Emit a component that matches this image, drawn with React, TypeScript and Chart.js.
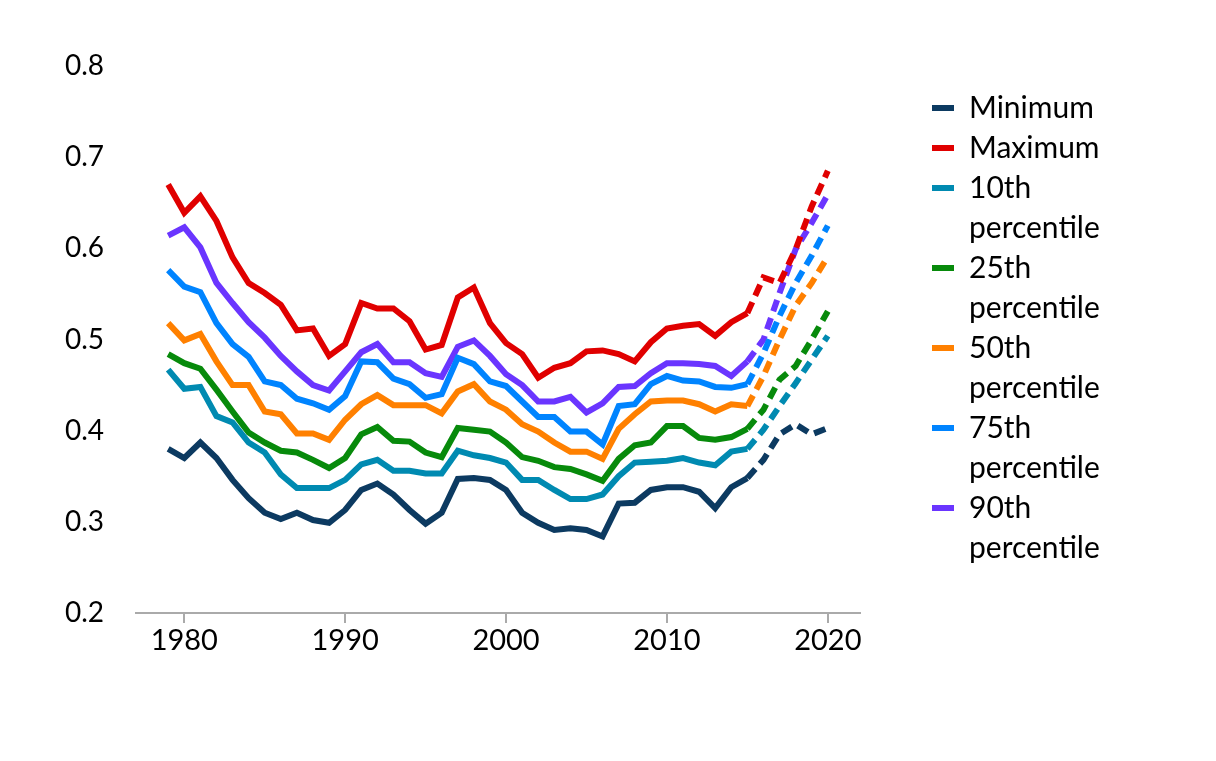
import { useEffect, useRef } from 'react';
import { Chart, registerables } from 'chart.js';

Chart.register(...registerables);

const years = [
  1979, 1980, 1981, 1982, 1983, 1984, 1985, 1986, 1987, 1988,
  1989, 1990, 1991, 1992, 1993, 1994, 1995, 1996, 1997, 1998,
  1999, 2000, 2001, 2002, 2003, 2004, 2005, 2006, 2007, 2008,
  2009, 2010, 2011, 2012, 2013, 2014, 2015, 2016, 2017, 2018,
  2019, 2020,
];
const xTicks = [1980, 1990, 2000, 2010, 2020];
const yTicks = [0.2, 0.3, 0.4, 0.5, 0.6, 0.7, 0.8];
// from this year on the lines are projections (dashed)
const projectionStart = 2015;

const minimum = [
  0.380, 0.370, 0.387, 0.370, 0.346, 0.326, 0.310, 0.303, 0.310, 0.302,
  0.299, 0.313, 0.335, 0.342, 0.330, 0.313, 0.298, 0.310, 0.347, 0.348,
  0.346, 0.335, 0.310, 0.299, 0.291, 0.293, 0.291, 0.284, 0.320, 0.321,
  0.335, 0.338, 0.338, 0.333, 0.315, 0.338, 0.348, 0.368, 0.396, 0.407,
  0.396, 0.403,
];
const maximum = [
  0.670, 0.639, 0.657, 0.630, 0.590, 0.562, 0.551, 0.538, 0.510, 0.512,
  0.482, 0.495, 0.540, 0.534, 0.534, 0.520, 0.489, 0.494, 0.546, 0.557,
  0.518, 0.496, 0.484, 0.458, 0.469, 0.474, 0.487, 0.488, 0.484, 0.476,
  0.497, 0.512, 0.515, 0.517, 0.504, 0.519, 0.529, 0.568, 0.562, 0.599,
  0.646, 0.685,
];
const p10 = [
  0.467, 0.446, 0.448, 0.416, 0.409, 0.387, 0.376, 0.352, 0.337, 0.337,
  0.337, 0.346, 0.363, 0.368, 0.356, 0.356, 0.353, 0.353, 0.378, 0.373,
  0.370, 0.365, 0.346, 0.346, 0.335, 0.325, 0.325, 0.330, 0.350, 0.365,
  0.366, 0.367, 0.370, 0.365, 0.362, 0.377, 0.380, 0.401, 0.427, 0.452,
  0.478, 0.504,
];
const p25 = [
  0.484, 0.474, 0.468, 0.445, 0.421, 0.398, 0.387, 0.378, 0.376, 0.368,
  0.359, 0.370, 0.396, 0.404, 0.389, 0.388, 0.376, 0.371, 0.403, 0.401,
  0.399, 0.387, 0.371, 0.367, 0.360, 0.358, 0.352, 0.345, 0.369, 0.384,
  0.387, 0.405, 0.405, 0.392, 0.390, 0.393, 0.402, 0.423, 0.456, 0.471,
  0.500, 0.531,
];
const p50 = [
  0.518, 0.499, 0.506, 0.476, 0.450, 0.450, 0.421, 0.418, 0.397, 0.397,
  0.390, 0.412, 0.429, 0.439, 0.428, 0.428, 0.428, 0.419, 0.443, 0.451,
  0.432, 0.423, 0.407, 0.399, 0.387, 0.377, 0.377, 0.369, 0.402, 0.418,
  0.432, 0.433, 0.433, 0.429, 0.421, 0.429, 0.427, 0.460, 0.500, 0.537,
  0.562, 0.591,
];
const p75 = [
  0.576, 0.558, 0.552, 0.518, 0.495, 0.481, 0.454, 0.450, 0.435, 0.430,
  0.423, 0.438, 0.476, 0.475, 0.457, 0.451, 0.436, 0.440, 0.480, 0.473,
  0.454, 0.449, 0.432, 0.415, 0.415, 0.399, 0.399, 0.385, 0.427, 0.429,
  0.451, 0.460, 0.455, 0.454, 0.448, 0.447, 0.451, 0.485, 0.526, 0.562,
  0.592, 0.625,
];
const p90 = [
  0.614, 0.623, 0.601, 0.562, 0.540, 0.519, 0.502, 0.482, 0.465, 0.450,
  0.444, 0.465, 0.486, 0.495, 0.475, 0.475, 0.463, 0.459, 0.492, 0.499,
  0.482, 0.462, 0.450, 0.432, 0.432, 0.437, 0.420, 0.430, 0.448, 0.449,
  0.463, 0.474, 0.474, 0.473, 0.471, 0.460, 0.476, 0.500, 0.551, 0.599,
  0.628, 0.659,
];

const SERIES = [
  { legend: ['Minimum'], data: minimum, color: '#0c3a61' },
  { legend: ['Maximum'], data: maximum, color: '#e00000' },
  { legend: ['10th', 'percentile'], data: p10, color: '#008ab1' },
  { legend: ['25th', 'percentile'], data: p25, color: '#078a0b' },
  { legend: ['50th', 'percentile'], data: p50, color: '#ff8000' },
  { legend: ['75th', 'percentile'], data: p75, color: '#0084ff' },
  { legend: ['90th', 'percentile'], data: p90, color: '#6a35ff' },
];

const FONT = 'Lato, "Noto Sans", sans-serif';

// legend lives in the chart area for layout purposes, then gets moved to the right
const legendPlacer = {
  id: 'legendPlacer',
  afterLayout(chart: any) {
    const lg = chart.legend;
    if (!lg) return;
    const w = lg.width;
    lg.left = 914;
    lg.right = 914 + w;
    lg.top = 75;
    lg.bottom = 75 + 620;
  },
};

export default function App() {
  const canvasRef = useRef<HTMLCanvasElement | null>(null);
  const chartRef = useRef<Chart | null>(null);

  useEffect(() => {
    if (!canvasRef.current) return;
    if (chartRef.current) chartRef.current.destroy();

    const datasets: any[] = SERIES.map(s => ({
      label: s.legend.join(' '),
      data: years.map((yr, i) => ({ x: yr, y: s.data[i] })),
      borderColor: s.color,
      backgroundColor: s.color,
      borderWidth: 6,
      pointRadius: 0,
      tension: 0,
      fill: false,
      segment: {
        borderDash: (ctx: any) => (ctx.p0.parsed.x >= projectionStart ? [12, 7] : undefined),
      },
    }));

    chartRef.current = new Chart(canvasRef.current, {
      type: 'line',
      data: { datasets },
      plugins: [legendPlacer],
      options: {
        responsive: true,
        maintainAspectRatio: false,
        animation: false,
        layout: { padding: { left: 53, top: 58, right: 348, bottom: 80 } },
        scales: {
          x: {
            type: 'linear',
            min: 1977,
            max: 2022,
            afterBuildTicks: (axis: any) => {
              axis.ticks = xTicks.map(v => ({ value: v }));
            },
            afterFit: (axis: any) => {
              axis.height = 60;
            },
            ticks: {
              color: '#000',
              padding: 0,
              maxRotation: 0,
              font: { family: FONT, size: 29 },
              callback: (v: any) => String(v),
            },
            grid: {
              drawOnChartArea: false,
              drawTicks: true,
              tickLength: 10,
              color: '#aaaaaa',
              lineWidth: 2,
            },
            border: { display: true, color: '#aaaaaa', width: 2 },
          },
          y: {
            min: 0.2,
            max: 0.8,
            afterBuildTicks: (axis: any) => {
              axis.ticks = yTicks.map(v => ({ value: v }));
            },
            afterFit: (axis: any) => {
              axis.width = 75;
            },
            ticks: {
              color: '#000',
              padding: 32,
              font: { family: FONT, size: 28 },
              callback: (v: any) => Number(v).toFixed(1),
            },
            grid: { display: false, drawTicks: false },
            border: { display: false },
          },
        },
        plugins: {
          legend: {
            position: 'chartArea',
            align: 'start',
            onClick: () => {},
            labels: {
              color: '#111',
              font: { family: FONT, size: 30 },
              boxWidth: 22,
              boxHeight: 6,
              padding: 10,
              generateLabels: () => {
                const items: any[] = [];
                SERIES.forEach((s, i) => {
                  s.legend.forEach((text, j) => {
                    items.push({
                      text,
                      fillStyle: j === 0 ? s.color : 'rgba(0,0,0,0)',
                      strokeStyle: 'rgba(0,0,0,0)',
                      lineWidth: 0,
                      hidden: false,
                      datasetIndex: i,
                    });
                  });
                });
                return items;
              },
            },
          },
          tooltip: { enabled: false },
        },
      } as any,
    });

    return () => {
      if (chartRef.current) {
        chartRef.current.destroy();
        chartRef.current = null;
      }
    };
  }, []);

  return (
    <div style={{ position: 'relative', width: 1200, height: 745 }}>
      <canvas ref={canvasRef} />
    </div>
  );
}
